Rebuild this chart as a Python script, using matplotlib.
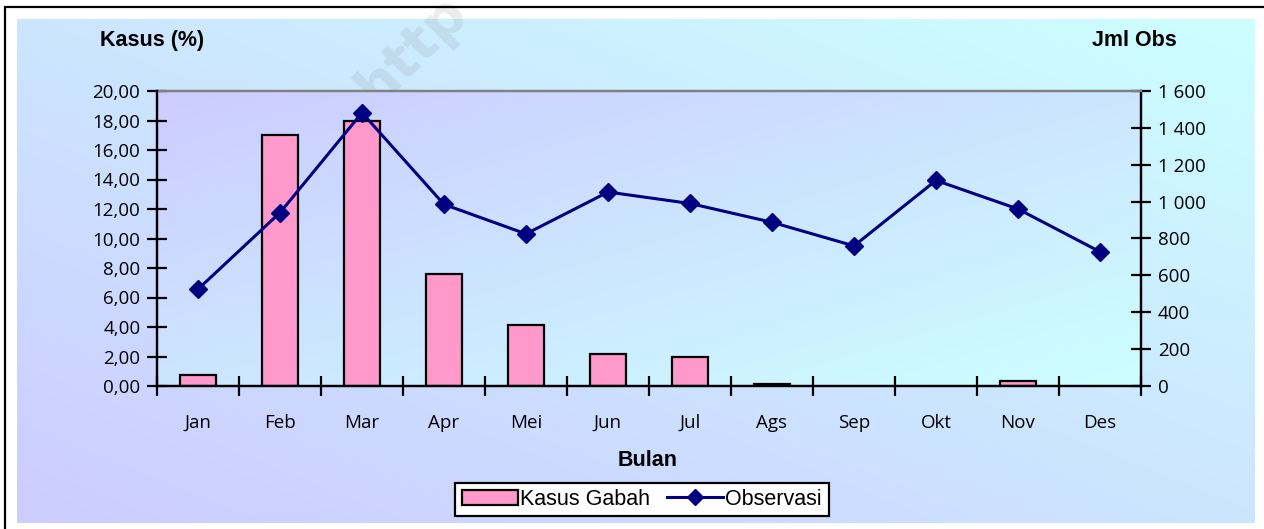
import numpy as np
import matplotlib
matplotlib.use('Agg')
import matplotlib.pyplot as plt
from matplotlib.patches import Patch, Rectangle
from matplotlib.lines import Line2D
from matplotlib.ticker import FuncFormatter, MultipleLocator, FixedLocator

months = ['Jan', 'Feb', 'Mar', 'Apr', 'Mei', 'Jun', 'Jul', 'Ags', 'Sep', 'Okt', 'Nov', 'Des']
kasus_gabah = [0.72, 17.05, 17.95, 7.6, 4.15, 2.15, 2.0, 0.15, 0.0, 0.0, 0.35, 0.0]
observasi = [525, 940, 1482, 985, 825, 1052, 990, 888, 760, 1115, 960, 728]

W, H = 1264, 529
fig = plt.figure(figsize=(W / 100, H / 100), dpi=100)

# chart area background (diagonal gradient lavender -> cyan)
lav = np.array([0xCC, 0xCC, 0xFF]) / 255
cyan = np.array([0xCC, 0xFF, 0xFF]) / 255

bg = fig.add_axes([17 / W, (H - 523) / H, (1255 - 17) / W, (523 - 19) / H], zorder=-2)
u = np.linspace(0, 1, 200)
v = np.linspace(0, 1, 100)
U, V = np.meshgrid(u, v)
t = (U + (1 - V)) / 2  # row 0 at top
img = lav[None, None, :] * (1 - t[..., None]) + cyan[None, None, :] * t[..., None]
bg.imshow(img, aspect='auto', extent=[0, 1, 0, 1], interpolation='bilinear')
bg.set_xlim(0, 1)
bg.set_ylim(0, 1)
bg.axis('off')

# outer black frame
fig.patches.append(Rectangle((5 / W, -0.1), 1.2, (H - 7) / H + 0.1, transform=fig.transFigure,
                             fill=False, edgecolor='black', linewidth=1.6))

# watermark
fig.text(412 / W, 1 - 50 / H, 'http', rotation=45, fontsize=40, fontweight='bold',
         color='#8a8a8a', alpha=0.16, ha='center', va='center', family='DejaVu Sans', zorder=-1)

ax = fig.add_axes([157 / W, (H - 386) / H, (1141 - 157) / W, (386 - 91) / H])
ax2 = ax.twinx()
ax.set_zorder(1)
ax2.set_zorder(2)
ax.patch.set_visible(False)
ax2.patch.set_visible(False)

# plot area gradient
t2 = (U + V) / 2
img2 = lav[None, None, :] * (1 - t2[..., None]) + cyan[None, None, :] * t2[..., None]
ax.imshow(img2, aspect='auto', extent=[0, 1, 0, 1], transform=ax.transAxes,
          interpolation='bilinear', zorder=0)

x = np.arange(len(months))
edge_w = [1.6 if val > 0 else 0 for val in kasus_gabah]
ax.bar(x, kasus_gabah, width=0.43, color='#FF99CC', edgecolor='black', linewidth=edge_w, zorder=2)
ax2.plot(x, observasi, color='#000080', linewidth=2.2, marker='D', markersize=9.5, zorder=3)

ax.set_xlim(-0.5, 11.5)
ax.set_ylim(0, 20)
ax2.set_ylim(0, 1600)

ax.yaxis.set_major_locator(MultipleLocator(2))
ax.yaxis.set_major_formatter(FuncFormatter(lambda val, pos: f'{val:.2f}'.replace('.', ',')))
ax2.yaxis.set_major_locator(MultipleLocator(200))
ax2.yaxis.set_major_formatter(FuncFormatter(lambda val, pos: f'{int(val):,}'.replace(',', ' ')))

ax.xaxis.set_major_locator(FixedLocator(np.arange(-0.5, 12, 1)))
ax.xaxis.set_minor_locator(FixedLocator(x))
ax.set_xticklabels([])
ax.set_xticklabels(months, minor=True)
ax.tick_params(axis='x', which='major', direction='inout', length=14, width=1.6, color='black')
ax.tick_params(axis='x', which='minor', length=0, pad=20)
ax.tick_params(axis='y', direction='inout', length=14, width=1.6, pad=5)
ax2.tick_params(axis='y', direction='inout', length=14, width=1.6, pad=5)
for lab in ax.get_xticklabels(minor=True) + ax.get_yticklabels() + ax2.get_yticklabels():
    lab.set_fontfamily('Open Sans')
    lab.set_fontsize(13.5)

for a in (ax, ax2):
    a.spines['top'].set_color('#808080')
    a.spines['top'].set_linewidth(1.6)
    a.spines['left'].set_linewidth(1.6)
    a.spines['right'].set_linewidth(1.6)
    a.spines['bottom'].set_linewidth(1.6)
    a.spines['left'].set_zorder(5)

fig.text(100 / W, 1 - 40 / H, 'Kasus (%)', fontsize=15.5, fontweight='bold',
         family='Liberation Sans', ha='left', va='center')
fig.text(1177 / W, 1 - 40 / H, 'Jml Obs', fontsize=15.5, fontweight='bold',
         family='Liberation Sans', ha='right', va='center')
fig.text(648 / W, 1 - 461 / H, 'Bulan', fontsize=15.5, fontweight='bold',
         family='Liberation Sans', ha='center', va='center')

handles = [Patch(facecolor='#FF99CC', edgecolor='black', linewidth=1.6),
           Line2D([], [], color='#000080', linewidth=2.2, marker='D', markersize=8)]
leg = fig.legend(handles, ['Kasus Gabah', 'Observasi'], loc='center',
                 bbox_to_anchor=(642 / W, 1 - 499.5 / H), ncol=2, frameon=True,
                 fancybox=False, edgecolor='black', framealpha=1,
                 prop={'family': 'Liberation Sans', 'size': 15.5},
                 handlelength=2.6, handleheight=0.7, handletextpad=0.1,
                 columnspacing=0.8, borderpad=0.3, borderaxespad=0)
leg.get_frame().set_linewidth(1.6)

fig.savefig('out.png', dpi=100)
